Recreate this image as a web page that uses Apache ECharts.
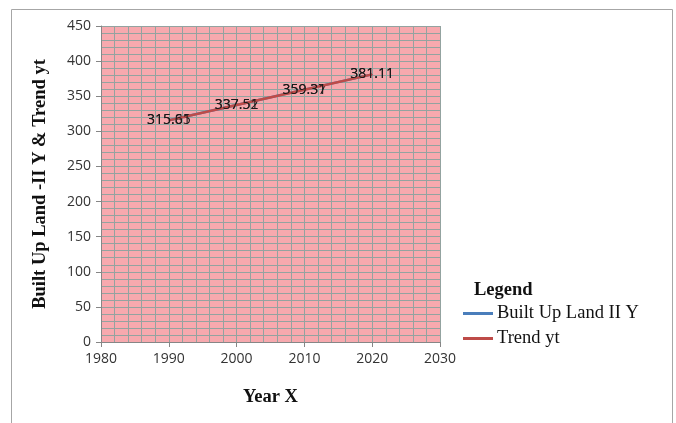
<!DOCTYPE html>
<html>
<head>
<meta charset="utf-8">
<script src="https://cdn.jsdelivr.net/npm/echarts@6/dist/echarts.min.js"></script>
<style>
  html, body { margin: 0; padding: 0; background: #fff; }
  #chart { width: 676px; height: 423px; }
</style>
</head>
<body>
<div id="chart"></div>
<script>
// Survey years and built-up land values with their linear trend
const years = [1990, 2000, 2010, 2020];
const builtUpY = [315.85, 337.52, 359.37, 381.11];
const trendYt = [315.61, 337.51, 359.31, 381.11];
const seriesNames = ['Built Up Land II Y', 'Trend yt'];
const seriesColors = ['#4A7EBB', '#BE4B48'];

const serif = '"Liberation Serif", "Times New Roman", serif';
const sans = '"Open Sans", "Liberation Sans", sans-serif';

const pairs = (xs, ys) => xs.map((x, i) => [x, ys[i]]);

const valueLabel = {
  show: true,
  position: 'inside',
  color: '#1a1a1a',
  fontFamily: sans,
  fontSize: 14,
  formatter: p => p.value[1].toFixed(2)
};

const gridLine = { color: '#93A3A0', width: 1 };

const lineSeries = (name, color, ys, z) => ({
  name, type: 'line', data: pairs(years, ys), z,
  showSymbol: true, symbol: 'circle', symbolSize: 1,
  itemStyle: { color },
  lineStyle: { color, width: 2.5 },
  label: valueLabel
});

const chart = echarts.init(document.getElementById('chart'), null, { renderer: 'canvas' });

chart.setOption({
  animation: false,
  backgroundColor: '#fff',
  grid: { left: 101, top: 26, width: 339, height: 316, show: true, backgroundColor: '#F7A9AE', borderWidth: 0 },
  title: {
    text: 'Legend', left: 474, top: 281, padding: 0,
    textStyle: { fontFamily: serif, fontWeight: 'bold', fontSize: 18.5, color: '#111' }
  },
  legend: {
    orient: 'vertical', left: 463, top: 304, padding: 0,
    itemWidth: 30, itemHeight: 3, itemGap: 6,
    icon: 'rect',
    textStyle: { fontFamily: serif, fontSize: 18.5, color: '#111', padding: [0, 0, 0, -1] },
    data: seriesNames
  },
  graphic: [{
    type: 'rect', silent: true, z: -1,
    shape: { x: 11.5, y: 9.5, width: 661, height: 420 },
    style: { fill: 'none', stroke: '#A6A6A6', lineWidth: 1 }
  }],
  xAxis: {
    type: 'value', min: 1980, max: 2030, interval: 10,
    name: 'Year X', nameLocation: 'middle', nameGap: 46,
    nameTextStyle: { fontFamily: serif, fontWeight: 'bold', fontSize: 18.5, color: '#111' },
    axisLine: { show: true, lineStyle: { color: '#868686' } },
    axisTick: { show: true, length: 5, lineStyle: { color: '#868686' } },
    axisLabel: { fontFamily: sans, fontSize: 14, color: '#333', margin: 10, formatter: v => String(v) },
    splitLine: { show: true, lineStyle: gridLine },
    minorTick: { show: false, splitNumber: 5 },
    minorSplitLine: { show: true, lineStyle: gridLine }
  },
  yAxis: {
    type: 'value', min: 0, max: 450, interval: 50,
    name: 'Built Up Land -II Y & Trend yt', nameLocation: 'middle', nameGap: 51,
    nameTextStyle: { fontFamily: serif, fontWeight: 'bold', fontSize: 18.5, color: '#111' },
    axisLine: { show: true, lineStyle: { color: '#868686' } },
    axisTick: { show: true, length: 5, lineStyle: { color: '#868686' } },
    axisLabel: { fontFamily: sans, fontSize: 14, color: '#333', margin: 10 },
    splitLine: { show: true, lineStyle: gridLine },
    minorTick: { show: false, splitNumber: 5 },
    minorSplitLine: { show: true, lineStyle: gridLine }
  },
  series: [
    lineSeries(seriesNames[0], seriesColors[0], builtUpY, 2),
    lineSeries(seriesNames[1], seriesColors[1], trendYt, 3)
  ]
});
</script>
</body>
</html>
